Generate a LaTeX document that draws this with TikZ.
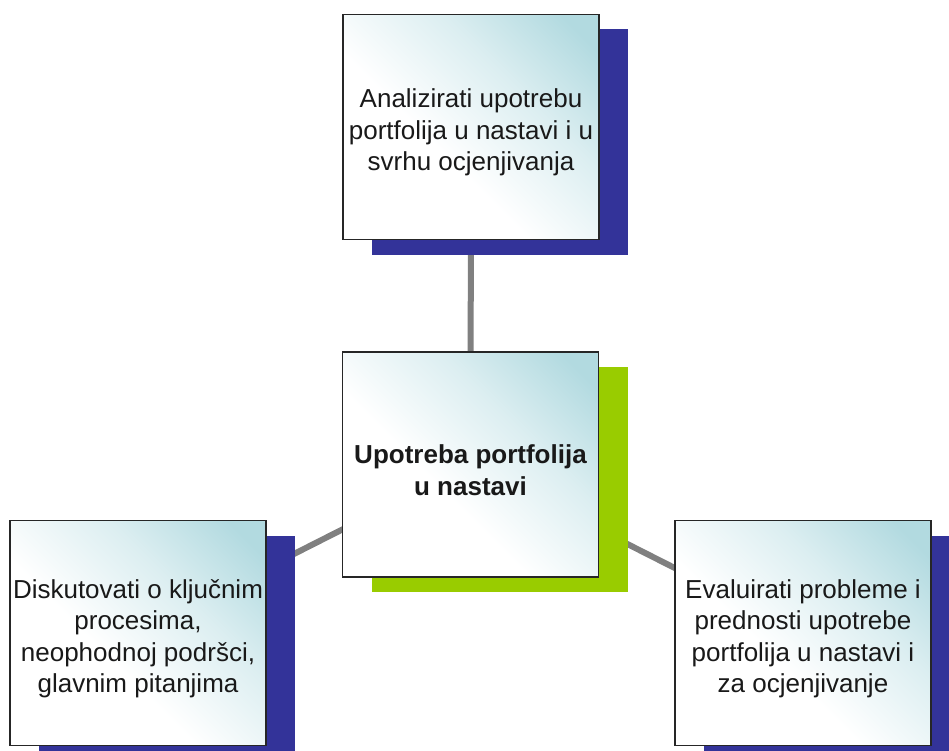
\documentclass[tikz,border=0pt]{standalone}
\usepackage{fontspec}
\setmainfont{Liberation Sans}
\usetikzlibrary{shadows,backgrounds}
\definecolor{tealL}{RGB}{178,218,224}
\definecolor{shblue}{RGB}{51,51,153}
\definecolor{shgreen}{RGB}{153,204,0}
\definecolor{conn}{RGB}{128,128,128}
\pgfdeclareverticalshading{boxshade}{100bp}{color(0bp)=(white); color(42bp)=(white); color(62bp)=(tealL!45!white); color(80bp)=(tealL); color(100bp)=(tealL)}
\newcommand{\lowerstrut}{\rule{0pt}{30pt}}
\tikzset{
  box/.style={draw=black!85, line width=1.4pt, shade, shading=boxshade, shading angle=-45,
    minimum width=256pt, minimum height=225pt, inner sep=0pt, align=center,
    font=\fontsize{26}{31.5}\selectfont, text=black!90},
  blueshadow/.style={drop shadow={shadow xshift=29pt, shadow yshift=-15pt, fill=shblue, opacity=1}},
  greenshadow/.style={drop shadow={shadow xshift=29pt, shadow yshift=-15pt, fill=shgreen, opacity=1}},
  link/.style={draw=conn, line width=6pt}
}
\begin{document}
\begin{tikzpicture}[x=1pt,y=-1pt]
\useasboundingbox (0,0) rectangle (949,751);
\clip (0,0) rectangle (949,751);
\node[box, blueshadow] (top) at (471,127) {\lowerstrut Analizirati upotrebu\\portfolija u nastavi i u\\svrhu ocjenjivanja};
\node[box, greenshadow, font=\fontsize{26}{31.5}\selectfont\bfseries] (mid) at (470.5,464.5) {\lowerstrut Upotreba portfolija\\u nastavi};
\node[box, blueshadow] (left) at (138,633) {\lowerstrut Diskutovati o ključnim\\procesima,\\neophodnoj podršci,\\glavnim pitanjima};
\node[box, blueshadow] (right) at (803,633) {\lowerstrut Evaluirati probleme i\\prednosti upotrebe\\portfolija u nastavi i\\za ocjenjivanje};
\begin{pgfonlayer}{background}
\draw[link] (mid.center) -- (top.center);
\draw[link] (mid.center) -- (left.center);
\draw[link] (mid.center) -- (right.center);
\end{pgfonlayer}
\end{tikzpicture}
\end{document}
